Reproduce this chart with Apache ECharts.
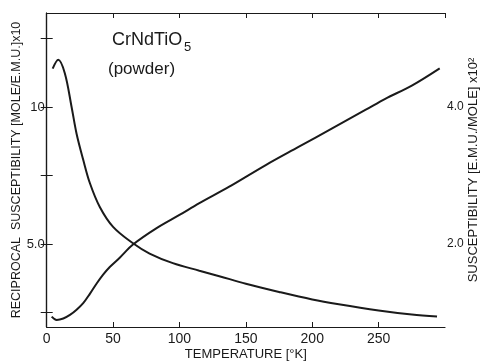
<!DOCTYPE html>
<html>
<head>
<meta charset="utf-8">
<script src="https://cdn.jsdelivr.net/npm/echarts@6/dist/echarts.min.js"></script>
<style>html,body{margin:0;padding:0;background:#fff;}#c{width:481px;height:362px;}</style>
</head>
<body>
<div id="c"></div>
<script>
// Reciprocal susceptibility (left axis) vs temperature
const recipT   = [3.75, 7.5, 12.5, 17.5, 22.5, 27.5, 32.5, 37.5, 42.5, 47.5, 55, 65, 82.5, 100, 115, 137.5, 165, 190, 215, 240, 255, 275, 296];
const recipVal = [2.35, 2.23, 2.28, 2.41, 2.6, 2.84, 3.18, 3.55, 3.88, 4.16, 4.5, 4.98, 5.57, 6.06, 6.49, 7.09, 7.88, 8.55, 9.22, 9.89, 10.3, 10.78, 11.41];
// Susceptibility (right axis) vs temperature
const suscT    = [4.5, 8.7, 13.7, 18.75, 22.5, 27.5, 32.5, 40, 50, 65, 77.5, 95, 115, 130, 150, 175, 200, 220, 250, 275, 294];
const suscVal  = [4.56, 4.69, 4.49, 4.00, 3.61, 3.23, 2.89, 2.54, 2.25, 2.01, 1.86, 1.72, 1.61, 1.53, 1.42, 1.3, 1.19, 1.12, 1.03, 0.97, 0.94];
// Tick marks / labels
const leftTicks  = [2.5, 5, 7.5, 10, 12.5];
const leftLabels = [5, 10];
const rightTicks = [1, 2, 3, 4, 5];
const rightLabels = [2, 4];

const FONT = "'Liberation Sans', Arial, sans-serif";
const INK = '#1a1a1a';

const chart = echarts.init(document.getElementById('c'), null, {renderer: 'canvas'});
const pair = (xs, ys) => xs.map((x, i) => [x, ys[i]]);

chart.setOption({
  animation: false,
  backgroundColor: '#fff',
  grid: {left: 46.7, right: 36, top: 13, bottom: 35, containLabel: false, outerBoundsMode: 'none'},
  graphic: [
    {type: 'text', left: 112, top: 31, style: {text: 'CrNdTiO', font: '18px ' + FONT, fill: INK}},
    {type: 'text', left: 184, top: 41, style: {text: '5', font: '13px ' + FONT, fill: INK}},
    {type: 'text', left: 108, top: 61, style: {text: '(powder)', font: '17px ' + FONT, fill: INK}}
  ],
  xAxis: [{
    type: 'value', min: 0, max: 300, interval: 50, position: 'bottom',
    name: 'TEMPERATURE [°K]', nameLocation: 'middle', nameGap: 21, nameMoveOverlap: false,
    nameTextStyle: {fontFamily: FONT, fontSize: 13, color: INK},
    axisLine: {lineStyle: {color: INK, width: 1.2}},
    axisTick: {inside: true, length: 5, lineStyle: {color: INK}},
    axisLabel: {margin: 5, fontFamily: FONT, fontSize: 14, color: INK, showMaxLabel: false,
      formatter: v => v >= 300 ? '' : String(v)},
    splitLine: {show: false}
  }, {
    type: 'value', min: 0, max: 300, interval: 50, position: 'top',
    axisLine: {show: true, lineStyle: {color: INK, width: 1.2}},
    axisTick: {inside: true, length: 5, lineStyle: {color: INK}},
    axisLabel: {show: false}, splitLine: {show: false}
  }],
  yAxis: [{
    type: 'value', min: 1.97, max: 13.43, position: 'left',
    name: 'RECIPROCAL  SUSCEPTIBILITY [MOLE/E.M.U.]x10', nameLocation: 'middle', nameRotate: 90, nameGap: 24,
    nameMoveOverlap: false,
    nameTextStyle: {fontFamily: FONT, fontSize: 12.5, color: INK},
    axisLine: {show: true, lineStyle: {color: INK, width: 1.2}},
    axisTick: {show: true, inside: true, length: 6, customValues: leftTicks, lineStyle: {color: INK}},
    axisLabel: {show: true, margin: 2, fontFamily: FONT, fontSize: 13, color: INK, customValues: leftLabels,
      formatter: v => (v === 5 ? '5.0' : String(v))},
    splitLine: {show: false}
  }, {
    type: 'value', min: 0.788, max: 5.372, position: 'right',
    name: 'SUSCEPTIBILITY [E.M.U./MOLE] x10²', nameLocation: 'middle', nameRotate: 90, nameGap: 22,
    nameMoveOverlap: false,
    nameTextStyle: {fontFamily: FONT, fontSize: 13, color: INK},
    axisLine: {show: true, lineStyle: {color: INK, width: 1.2}},
    axisTick: {show: true, inside: true, length: 6, customValues: rightTicks, lineStyle: {color: INK}},
    axisLabel: {show: true, margin: 2, fontFamily: FONT, fontSize: 12, color: INK, customValues: rightLabels,
      formatter: v => v.toFixed(1)},
    splitLine: {show: false}
  }],
  series: [{
    type: 'line', xAxisIndex: 0, yAxisIndex: 0, data: pair(recipT, recipVal),
    smooth: 0.35, showSymbol: false, lineStyle: {color: INK, width: 2}
  }, {
    type: 'line', xAxisIndex: 0, yAxisIndex: 1, data: pair(suscT, suscVal),
    smooth: 0.35, showSymbol: false, lineStyle: {color: INK, width: 2}
  }]
});
</script>
</body>
</html>
